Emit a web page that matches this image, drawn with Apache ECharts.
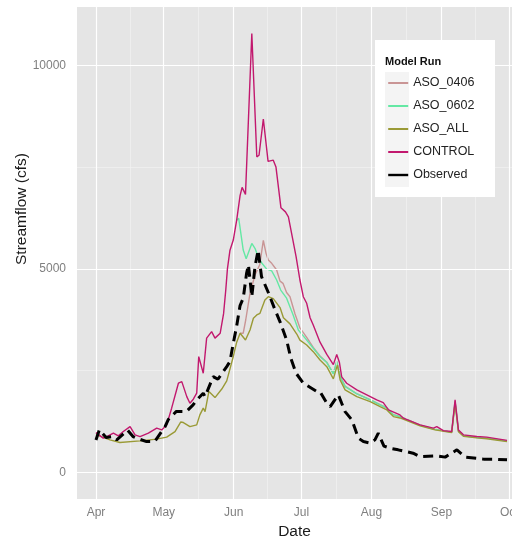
<!DOCTYPE html>
<html><head><meta charset="utf-8">
<script src="https://cdn.jsdelivr.net/npm/echarts@6/dist/echarts.min.js"></script>
<style>html,body{margin:0;padding:0;background:#fff}#c{width:512px;height:536px}</style>
</head><body><div id="c"></div>
<script>
// x values are days after 1 April
const monthTicks = [0, 30, 61, 91, 122, 153, 183];
const monthLabels = ['Apr', 'May', 'Jun', 'Jul', 'Aug', 'Sep', 'Oct'];
const minorXTicks = [15, 45.5, 76, 106.5, 137.5, 168];
const yTicks = [0, 5000, 10000];
const yMinorTicks = [2500, 7500];
const seriesNames = ['ASO_0406', 'ASO_0602', 'ASO_ALL', 'CONTROL', 'Observed'];

const aso0406Days = [63.8,65.2,66.3,68.2,70.4,72.5,74.1,75.3,76.3,77.8,80,81.5,82.8,84.4,85.9,88.1,90.3,93.3,96.2,99.2,102.2,105.1,106.6,108.1,110.3,115.5,121.4,125.8,128.8,131.7,134.6,143.5,150,157.5,159,160.5,162.7,168.6,173,182];
const aso0406Flow = [3419,3420,3745,4400,4850,5100,5700,5381,5217,5136,4972,4700,4645,4420,4317,3900,3550,3320,3070,2860,2710,2430,2730,2365,2120,1935,1788,1665,1585,1420,1378,1165,1062,992,1745,1022,902,862,847,777];

const aso0602Days = [62.3,63.2,65.2,66.5,69,70.4,71.8,73.3,75.5,77.8,80,81.8,84.4,87.3,89.6,92.6,96.2,99.2,102.2,105.1,106.6,108.1,110.3,115.5,121.4,125.8,128.8,131.7,134.6,143.5,150,157.5,159,160.5,162.7,168.6,173,182];
const aso0602Flow = [6198,6240,5462,5250,5626,5504,5300,5150,5000,4950,4727,4480,4280,3870,3500,3300,3050,2845,2700,2420,2723,2355,2110,1930,1783,1660,1580,1415,1374,1160,1060,990,1740,1020,900,860,845,775];

const asoAllDays = [0,6.2,10.6,19.5,26.9,31.3,35,37.5,38.7,41.6,44.6,46,47.5,48.3,50,52.7,55.7,57.9,60.8,62.3,63.8,66.2,68.2,69.7,71.2,72.6,74.8,76.3,77,78.5,81.5,83,85.9,88.9,90.3,93.3,96.2,99.2,102.2,105.1,106.9,108.1,110.3,115.5,121.4,125.8,128.8,131.7,134.6,143.5,150.1,157.5,159,160.5,162.7,168.6,173,182];
const asoAllFlow = [930,802,736,777,819,868,1006,1240,1227,1128,1170,1415,1580,1496,1990,1840,2050,2250,2850,3200,3419,3255,3500,3787,3868,3910,4236,4317,4359,4270,4050,3800,3650,3400,3250,3132,2968,2764,2600,2300,2642,2274,2028,1864,1741,1619,1538,1374,1340,1145,1047,981,1700,1000,890,850,830,760];

const controlDays = [0,3.2,5.4,7.7,9.9,12.1,15.1,17.3,19.5,23.2,26.9,29.1,31.3,33.5,36.5,38,40.2,41.6,43.1,44.6,45.5,47.5,49,51.2,52.7,55,56.5,57.5,58.2,59.3,60.8,62.3,63.8,64.7,66.2,69,71.2,72.2,74.1,76.2,78.5,79.7,81.9,83.9,85.2,87,88.6,90.3,91.8,93.3,94.8,96.2,99.2,102.2,105.1,106.6,107.8,108.8,111,115.5,119.9,124.3,127.2,129.5,134.6,136.1,143.5,149.4,150.9,153.8,157.5,159,160.5,162.7,168.6,173,182];
const controlFlow = [980,844,900,966,900,1006,1128,925,883,966,1089,1047,1170,1580,2193,2232,1864,1700,1800,1948,2845,2438,3300,3459,3300,3420,3900,4500,5000,5450,5708,6198,6800,7000,6830,10778,7751,7790,8680,7640,7670,7500,6500,6400,6279,5760,5300,4727,4317,4155,3800,3620,3200,2900,2650,2900,2700,2350,2193,2028,1906,1783,1717,1538,1415,1334,1170,1089,1128,1030,1006,1783,1047,925,883,868,790];

const observedDays = [0,1.5,4.5,7.7,9.2,14,16.4,18,22.4,26,30.6,32,35.6,40,43,44.6,47.5,48.3,51.9,54,57.9,59.3,60.8,62.3,63.8,65.2,66.7,67.5,69,70.4,71.8,73.3,76.3,79.3,81.5,84.4,86.3,88.6,91.8,97.7,99.2,102.2,103.7,107.3,110.3,113.3,116.2,118.4,121.4,123.5,125,127.5,130.2,133.8,140.4,143.5,150.9,154.6,159.8,163.5,171.6,176,182];
const observedFlow = [800,1050,860,883,802,1040,883,844,760,760,1128,1300,1500,1496,1660,1783,1948,1864,2355,2290,2600,2723,3174,3600,4100,4278,4900,5100,4317,5053,5462,4808,4420,3991,3700,3255,2800,2438,2193,1990,1987,1700,1619,1906,1496,1293,844,760,720,802,966,650,598,557,475,392,410,378,557,378,329,329,311];

const colors = ['#C99595', '#64E8A4', '#9A9A36', '#C2186E', '#000000'];
const FONT = 'Liberation Sans, Arial, sans-serif';

function pairs(d, v) { return d.map((x, i) => [x, v[i]]); }

const gridLines = [].concat(
  minorXTicks.map(v => ({ xAxis: v, lineStyle: { color: '#F2F2F2', width: 0.7, type: 'solid' } })),
  yMinorTicks.map(v => ({ yAxis: v, lineStyle: { color: '#F2F2F2', width: 0.7, type: 'solid' } })),
  monthTicks.map(v => ({ xAxis: v, lineStyle: { color: '#FFFFFF', width: 1.2, type: 'solid' } })),
  yTicks.map(v => ({ yAxis: v, lineStyle: { color: '#FFFFFF', width: 1.2, type: 'solid' } }))
);

function lineSeries(name, days, flow, idx, extra) {
  return Object.assign({
    name: name, type: 'line', data: pairs(days, flow), symbol: 'none', showSymbol: false,
    z: 3 + idx, lineStyle: { color: colors[idx], width: 1.4 }, itemStyle: { color: colors[idx] },
    emphasis: { disabled: true }, silent: true
  }, extra || {});
}

const chart = echarts.init(document.getElementById('c'), null, { renderer: 'canvas' });
chart.setOption({
  animation: false,
  backgroundColor: '#ffffff',
  grid: { left: 77, right: 0, top: 7, bottom: 37, show: true, backgroundColor: '#E5E5E5', borderWidth: 0, containLabel: false, outerBoundsMode: 'none' },
  xAxis: {
    type: 'value', min: -8.4, max: 184.2,
    name: 'Date', nameLocation: 'middle', nameGap: 19,
    nameTextStyle: { fontSize: 15.5, color: '#1a1a1a', fontFamily: FONT },
    axisLine: { show: false },
    axisTick: { show: true, customValues: monthTicks, length: 5, lineStyle: { color: '#7f7f7f', width: 1 } },
    axisLabel: { customValues: monthTicks, formatter: v => monthLabels[monthTicks.indexOf(v)], color: '#7f7f7f', fontSize: 12, fontFamily: FONT, margin: 8, showMaxLabel: true, alignMaxLabel: 'center' },
    splitLine: { show: false }
  },
  yAxis: {
    type: 'value', min: -650, max: 11430,
    axisLine: { show: false },
    axisTick: { show: true, customValues: yTicks, length: 5, lineStyle: { color: '#7f7f7f', width: 1 } },
    axisLabel: { customValues: yTicks, formatter: v => String(v), color: '#7f7f7f', fontSize: 12, fontFamily: FONT, margin: 11 },
    splitLine: { show: false }
  },
  legend: {
    orient: 'vertical', left: 387, top: 76, padding: 0, itemWidth: 20, itemHeight: 14, itemGap: 9, z: 30,
    itemStyle: { opacity: 0 },
    lineStyle: { width: 2 },
    textStyle: { fontSize: 12.5, color: '#222', fontFamily: FONT, lineHeight: 14 },
    data: [
      { name: 'ASO_0406' }, { name: 'ASO_0602' }, { name: 'ASO_ALL' }, { name: 'CONTROL' },
      { name: 'Observed', lineStyle: { type: 'solid', width: 2.4 } }
    ],
    selectedMode: false
  },
  graphic: [
    { type: 'rect', z: 20, shape: { x: 375, y: 40, width: 120, height: 157 }, style: { fill: '#ffffff' }, silent: true },
    { type: 'rect', z: 21, shape: { x: 385, y: 72, width: 24, height: 115 }, style: { fill: '#F4F4F4' }, silent: true },
    { type: 'text', z: 22, x: 385, y: 62, style: { text: 'Model Run', font: 'bold 11px ' + FONT, fill: '#111', textVerticalAlign: 'middle' }, silent: true },
    { type: 'text', z: 22, x: 22, y: 209, rotation: Math.PI / 2, style: { text: 'Streamflow (cfs)', font: '15.5px ' + FONT, fill: '#1a1a1a', textAlign: 'center', textVerticalAlign: 'middle' }, silent: true }
  ],
  series: [
    {
      name: 'gridlines', type: 'line', data: [], z: 1, silent: true,
      markLine: { silent: true, symbol: ['none', 'none'], animation: false, label: { show: false }, lineStyle: { type: 'solid' }, emphasis: { disabled: true }, data: gridLines }
    },
    lineSeries(seriesNames[0], aso0406Days, aso0406Flow, 0),
    lineSeries(seriesNames[1], aso0602Days, aso0602Flow, 1),
    lineSeries(seriesNames[2], asoAllDays, asoAllFlow, 2),
    lineSeries(seriesNames[3], controlDays, controlFlow, 3),
    lineSeries(seriesNames[4], observedDays, observedFlow, 4, { lineStyle: { color: colors[4], width: 3, type: [10, 6] } })
  ]
});
</script>
</body></html>
